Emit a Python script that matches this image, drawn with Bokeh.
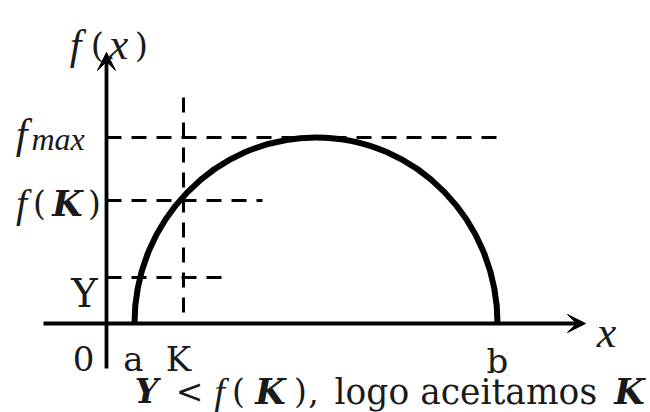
from bokeh.plotting import figure
from bokeh.models import Range1d, Arrow, VeeHead
from bokeh.core.properties import value
from bokeh.embed import file_html
from bokeh.resources import INLINE

# ---- data (diagram values, in axis units) ----
a_val = 28          # left end of the curve
b_val = 391         # right end of the curve
f_max = 186         # maximum of f
K_val = 77          # proposed K
f_K = 123           # f(K)
Y_val = 46          # random Y
# extents of guide lines
fmax_guide_end = 391
fK_guide_end = 156
Y_guide_end = 119
K_guide_top = 226
x_axis_start, x_axis_end = -63, 479
y_axis_start, y_axis_end = -45, 271

ROMAN = "DejaVu Serif"
MATH = "Liberation Serif"
INK = "#1a1a1a"

p = figure(width=650, height=412, x_range=Range1d(-106, 544), y_range=Range1d(-89, 323),
           output_backend="svg", toolbar_location=None, min_border=0,
           x_axis_location=None, y_axis_location=None)
p.grid.visible = False
p.outline_line_color = None
p.background_fill_color = "white"
p.border_fill_color = "white"

# dashed guides
p.segment(x0=[0, 0, 0, K_val], y0=[f_max, f_K, Y_val, K_guide_top],
          x1=[fmax_guide_end, fK_guide_end, Y_guide_end, K_val],
          y1=[f_max, f_K, Y_val, 0],
          line_color="black", line_width=3, line_dash="15 10")

# axes with arrow heads
p.segment(x0=[x_axis_start], y0=[0], x1=[x_axis_end - 6], y1=[0], line_color="black", line_width=3.8)
p.segment(x0=[0], y0=[y_axis_start], x1=[0], y1=[y_axis_end - 6], line_color="black", line_width=3.8)
p.add_layout(Arrow(end=VeeHead(size=18, fill_color="black", line_color="black", line_width=1),
                   x_start=x_axis_end - 10, y_start=0, x_end=x_axis_end, y_end=0,
                   line_color="black", line_width=3.8))
p.add_layout(Arrow(end=VeeHead(size=18, fill_color="black", line_color="black", line_width=1),
                   x_start=0, y_start=y_axis_end - 10, x_end=0, y_end=y_axis_end,
                   line_color="black", line_width=3.8))

# semicircular curve f(x) as two cubic bezier quarters
k = 0.5523
mid = (a_val + b_val) / 2
rx = (b_val - a_val) / 2
p.bezier(x0=[a_val, mid], y0=[0, f_max], x1=[mid, b_val], y1=[f_max, 0],
         cx0=[a_val, mid + k * rx], cy0=[k * f_max, f_max],
         cx1=[mid - k * rx, b_val], cy1=[f_max, k * f_max],
         line_color="black", line_width=6)


def label(txt, x, y, size, style="normal", align="center", font=ROMAN):
    p.text(x=[x], y=[y], text=[txt], text_font=value(font), text_font_size=f"{size}px",
           text_font_style=style, text_align=align, text_baseline="alphabetic",
           text_color=INK)


# f(x) at the top of the vertical axis
label("f", -31, 279, 42, "italic", font=MATH)
label("(", -9, 279, 34)
label("x", 12, 279, 44, "italic", font=MATH)
label(")", 35, 279, 34)

# f_max
label("f", -85, 190, 42, "italic", font=MATH)
label("max", -75, 185, 32, "italic", "left", font=MATH)

# f(K)
label("f", -85, 120, 40, "italic", font=MATH)
label("(", -67, 120, 33)
label("K", -39, 120, 35, "bold italic")
label(")", -12, 120, 33)

# Y
label("Y", -22, 31, 40)

# labels under the x axis
label("0", -23, -35, 34)
label("a", 27, -35, 34)
label("K", 72, -35, 34)
label("b", 391, -37, 34)
label("x", 500, -9, 44, "italic", font=MATH)

# caption
cy = -68
label("Y", 40, cy, 33, "bold italic")
label("<", 83, cy, 33)
label("f", 113, cy, 38, "italic", font=MATH)
label("(", 132, cy, 33)
label("K", 164, cy, 35, "bold italic")
label(")", 194, cy, 33)
label(",", 207, cy, 33)
label("logo aceitamos", 228, cy, 34.5, "normal", "left")
label("K", 523, cy, 35, "bold italic")

open("out.html", "w").write(file_html(p, INLINE))
